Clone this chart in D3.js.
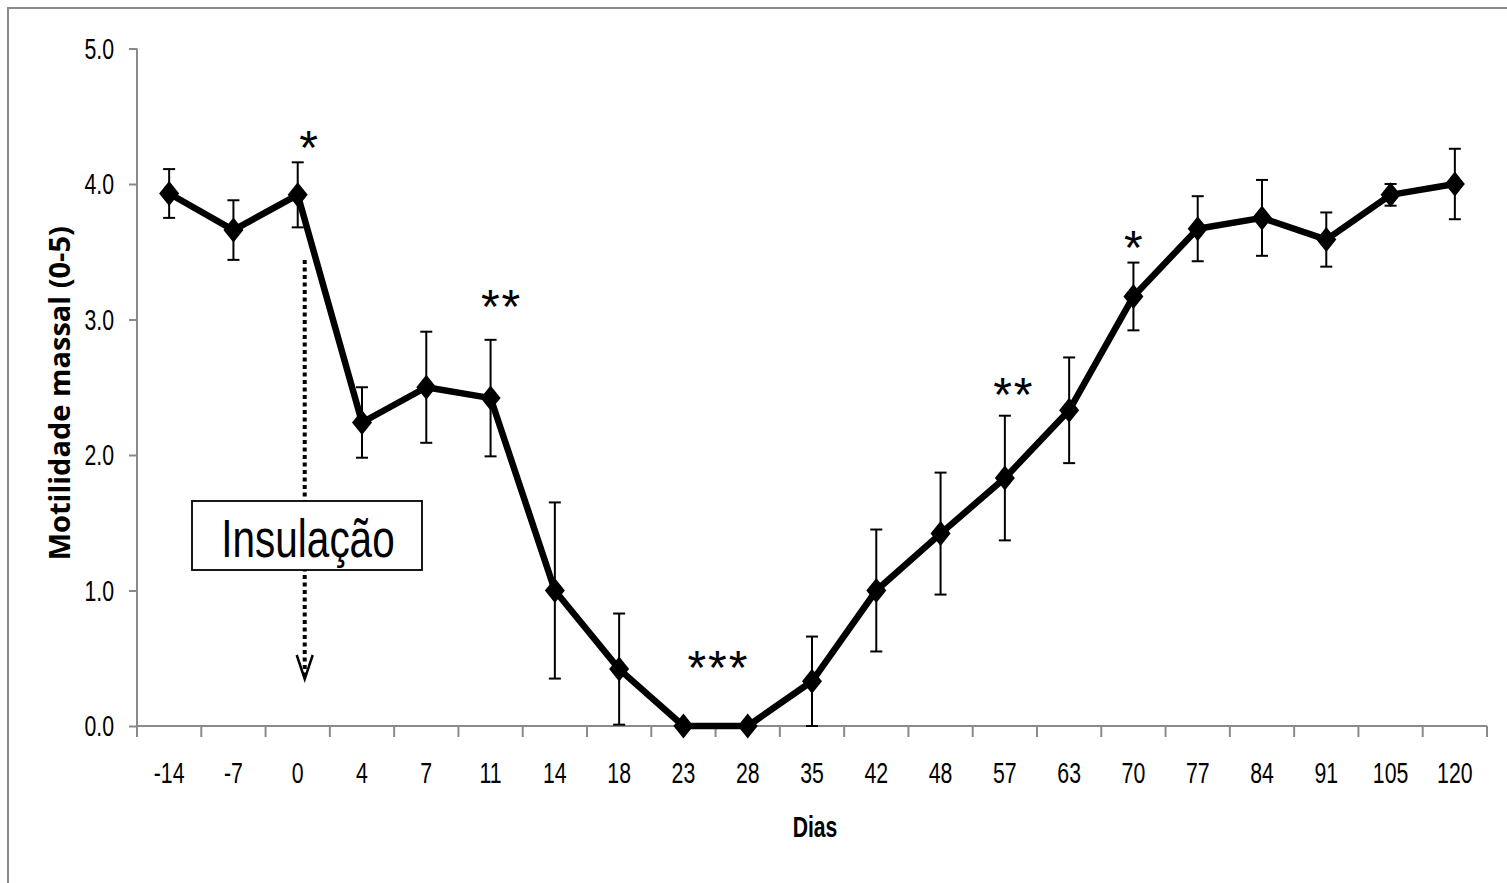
<!DOCTYPE html>
<html>
<head>
<meta charset="utf-8">
<script src="https://cdn.jsdelivr.net/npm/d3@7"></script>
<style>
  body { margin: 0; background: #fff; }
  svg { display: block; }
</style>
</head>
<body>
<div id="chart"></div>
<script>
// Data
const days = ["-14", "-7", "0", "4", "7", "11", "14", "18", "23", "28", "35",
              "42", "48", "57", "63", "70", "77", "84", "91", "105", "120"];
const motility = [3.93, 3.66, 3.92, 2.24, 2.50, 2.42, 1.00, 0.42, 0.00, 0.00, 0.33,
                  1.00, 1.42, 1.83, 2.33, 3.17, 3.67, 3.75, 3.59, 3.92, 4.00];
const errUp = [0.18, 0.22, 0.24, 0.26, 0.41, 0.43, 0.65, 0.41, 0, 0, 0.33,
               0.45, 0.45, 0.46, 0.39, 0.25, 0.24, 0.28, 0.20, 0.08, 0.26];
const yTicks = [0, 1, 2, 3, 4, 5];
// significance marks: label, day, height (scale units)
const sigLabels = ["*", "**", "***", "**", "*"];
const sigDays = ["0", "11", "23", "57", "70"];
const sigHeights = [4.31, 3.14, 0.47, 2.49, 3.57];

const width = 1507, height = 883;
const margin = { top: 48.5, left: 137 };
const axisColor = "#8a8a8a";
const font = "'Liberation Sans', Arial, sans-serif";
const squeeze = 0.71; // condensed look of the original labels

const svg = d3.select("#chart").append("svg")
  .attr("width", width)
  .attr("height", height);

// outer frame
svg.append("rect")
  .attr("x", 8).attr("y", 8)
  .attr("width", width + 20).attr("height", height + 20)
  .attr("fill", "none")
  .attr("stroke", axisColor)
  .attr("stroke-width", 2);

const x = d3.scaleBand()
  .domain(days)
  .range([margin.left, 1487]);

const y = d3.scaleLinear()
  .domain([0, 5])
  .range([726, margin.top]);

const cx = d => x(d) + x.bandwidth() / 2;

// y axis
const yAxis = svg.append("g")
  .attr("transform", `translate(${margin.left},0)`)
  .call(d3.axisLeft(y).tickValues(yTicks).tickFormat(d3.format(".1f")).tickSize(8).tickPadding(16));
yAxis.select(".domain").attr("stroke", axisColor).attr("stroke-width", 2).attr("d", `M0,${y(5)}V${y(0)}`);
yAxis.selectAll(".tick line").attr("stroke", axisColor).attr("stroke-width", 2);
yAxis.selectAll(".tick text")
  .attr("x", 0)
  .attr("transform", `translate(-23,0) scale(${squeeze},1)`)
  .attr("font-family", font)
  .attr("font-size", 30)
  .attr("fill", "#000");

// x axis: line, boundary ticks, centered labels
const xAxis = svg.append("g");
xAxis.append("line")
  .attr("x1", x.range()[0]).attr("x2", x.range()[1])
  .attr("y1", y(0)).attr("y2", y(0))
  .attr("stroke", axisColor).attr("stroke-width", 2);
const bounds = days.map(d => x(d)).concat([x.range()[1]]);
xAxis.selectAll(".xtick")
  .data(bounds)
  .enter().append("line")
  .attr("x1", d => d).attr("x2", d => d)
  .attr("y1", y(0)).attr("y2", y(0) + 11)
  .attr("stroke", axisColor).attr("stroke-width", 2);
xAxis.selectAll(".xlabel")
  .data(days)
  .enter().append("text")
  .attr("transform", d => `translate(${cx(d)},${y(0) + 57}) scale(${squeeze},1)`)
  .attr("text-anchor", "middle")
  .attr("font-family", font)
  .attr("font-size", 30)
  .text(d => d);

// axis titles
svg.append("text")
  .attr("transform", `translate(70,${(y(0) + y(5)) / 2 + 6}) rotate(-90)`)
  .attr("text-anchor", "middle")
  .attr("font-family", "'Open Sans', sans-serif")
  .attr("font-weight", "bold")
  .attr("font-size", 29)
  .text("Motilidade massal (0-5)");

svg.append("text")
  .attr("transform", `translate(${(x.range()[0] + x.range()[1]) / 2 + 3},837) scale(0.73,1)`)
  .attr("text-anchor", "middle")
  .attr("font-family", font)
  .attr("font-weight", "bold")
  .attr("font-size", 29)
  .text("Dias");

// insulation marker: dotted arrow and label box
const ax = cx("0") + 7;
svg.append("line")
  .attr("x1", ax).attr("x2", ax)
  .attr("y1", 260).attr("y2", 676)
  .attr("stroke", "#000").attr("stroke-width", 4)
  .attr("stroke-dasharray", "4,3.5");
svg.append("path")
  .attr("d", `M${ax - 8},${655}L${ax},${679}L${ax + 8},${655}`)
  .attr("fill", "none").attr("stroke", "#000").attr("stroke-width", 2.5);
svg.append("rect")
  .attr("x", 192).attr("y", 501)
  .attr("width", 230).attr("height", 69)
  .attr("fill", "#fff").attr("stroke", "#000").attr("stroke-width", 1.8);
svg.append("text")
  .attr("transform", "translate(308,557) scale(0.75,1)")
  .attr("text-anchor", "middle")
  .attr("font-family", font)
  .attr("font-size", 54)
  .text("Insulação");

// error bars
const points = days.map((d, i) => ({ day: d, v: motility[i], e: errUp[i] }));
const eb = svg.append("g").selectAll("g")
  .data(points.filter(p => p.e > 0))
  .enter().append("g")
  .attr("stroke", "#000").attr("stroke-width", 2);
eb.append("line")
  .attr("x1", p => cx(p.day)).attr("x2", p => cx(p.day))
  .attr("y1", p => y(p.v + p.e)).attr("y2", p => y(Math.max(0, p.v - p.e)));
eb.append("line")
  .attr("x1", p => cx(p.day) - 6).attr("x2", p => cx(p.day) + 6)
  .attr("y1", p => y(p.v + p.e)).attr("y2", p => y(p.v + p.e));
eb.append("line")
  .attr("x1", p => cx(p.day) - 6).attr("x2", p => cx(p.day) + 6)
  .attr("y1", p => y(Math.max(0, p.v - p.e))).attr("y2", p => y(Math.max(0, p.v - p.e)));

// main line
svg.append("path")
  .datum(points)
  .attr("fill", "none")
  .attr("stroke", "#000")
  .attr("stroke-width", 6.5)
  .attr("stroke-linejoin", "round")
  .attr("d", d3.line().x(p => cx(p.day)).y(p => y(p.v)));

// diamond markers
svg.selectAll(".marker")
  .data(points)
  .enter().append("path")
  .attr("transform", p => `translate(${cx(p.day)},${y(p.v)})`)
  .attr("d", "M0,-12.5L10,0L0,12.5L-10,0Z")
  .attr("fill", "#000");

// significance asterisks
const sigOffset = [12, 11, 35, 9, 1];
svg.selectAll(".sig")
  .data(sigLabels)
  .enter().append("text")
  .attr("x", (d, i) => cx(sigDays[i]) + sigOffset[i])
  .attr("y", (d, i) => y(sigHeights[i]) + 22)
  .attr("text-anchor", "middle")
  .attr("font-family", font)
  .attr("font-size", 48)
  .attr("letter-spacing", 2)
  .text(d => d);
</script>
</body>
</html>
